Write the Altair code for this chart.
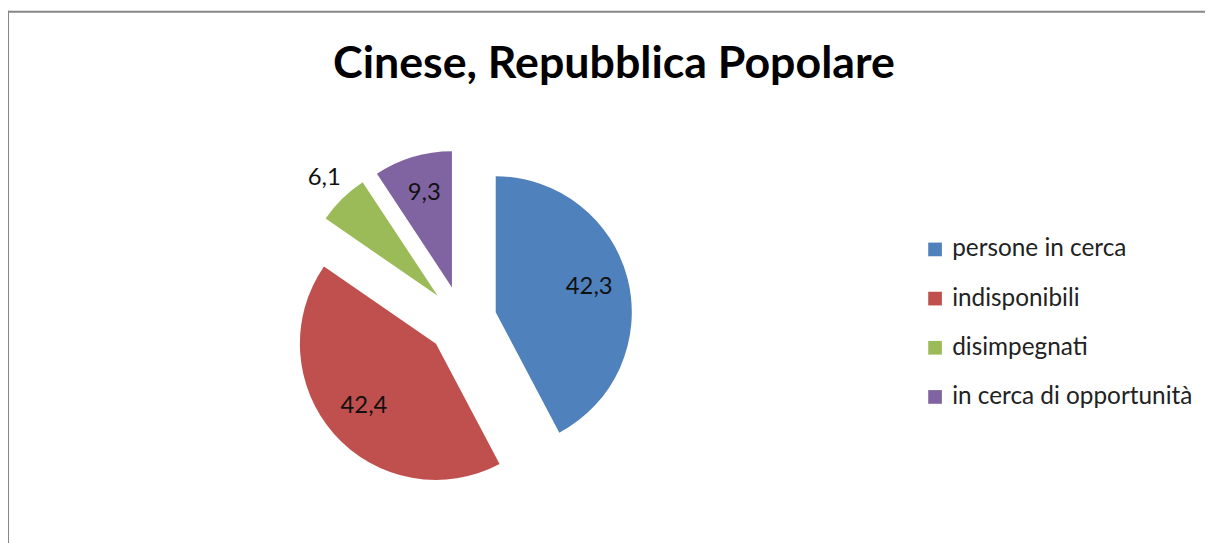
import altair as alt
import pandas as pd

categories = ["persone in cerca", "indisponibili", "disimpegnati", "in cerca di opportunità"]
values = [42.3, 42.4, 6.1, 9.3]
colors = ["#4F81BD", "#C0504D", "#9BBB59", "#8064A2"]
title_text = "Cinese, Repubblica Popolare"

df = pd.DataFrame({"category": categories, "value": values, "order": list(range(len(values)))})

W, H = 1205, 535
CX, CY = 457, 313      # pie centre (plot coords)
R = 137                # pie radius
EXPLODE = 35           # explode distance
FONT = "Lato"

base = (
    alt.Chart(df)
    .transform_joinaggregate(total="sum(value)")
    .transform_window(cum="sum(value)", sort=[alt.SortField("order")])
    .transform_calculate(
        start="2*PI*(datum.cum - datum.value)/datum.total",
        end="2*PI*datum.cum/datum.total",
    )
    .transform_calculate(mid="(datum.start + datum.end)/2")
    .transform_calculate(
        cx=f"{CX} + {EXPLODE}*sin(datum.mid)",
        cy=f"{CY} - {EXPLODE}*cos(datum.mid)",
    )
    .transform_calculate(
        lr="datum.value < 8 ? 163 : 97",
        label="replace(format(datum.value, '.1f'), '.', ',')",
    )
    .transform_calculate(
        lx="datum.cx + datum.lr*sin(datum.mid)",
        ly="datum.cy - datum.lr*cos(datum.mid)",
    )
)

arcs = base.mark_arc(outerRadius=R, stroke=None).encode(
    x=alt.X("cx:Q", scale=None, axis=None),
    y=alt.Y("cy:Q", scale=None, axis=None),
    theta=alt.Theta("start:Q", scale=None),
    theta2="end:Q",
    color=alt.Color(
        "category:N",
        scale=alt.Scale(domain=categories, range=colors),
        legend=alt.Legend(
            title=None,
            orient="none",
            legendX=921,
            legendY=229,
            symbolType="square",
            symbolSize=190,
            symbolStrokeWidth=0,
            labelFont=FONT,
            labelFontSize=24.5,
            labelColor="#222222",
            labelOffset=5,
            rowPadding=24.5,
            labelLimit=400,
        ),
    ),
)

labels = base.mark_text(font=FONT, fontSize=24, color="#111111", baseline="middle", align="center", dy=-2).encode(
    x=alt.X("lx:Q", scale=None, axis=None),
    y=alt.Y("ly:Q", scale=None, axis=None),
    text="label:N",
)

title = alt.Chart(pd.DataFrame({"t": [title_text]})).mark_text(
    font=FONT, fontSize=45, fontWeight="bold", color="#000000", align="center", baseline="alphabetic"
).encode(x=alt.value(610), y=alt.value(69), text="t:N")

frame_top = alt.Chart(pd.DataFrame({"a": [0]})).mark_rule(
    stroke="#878787", strokeWidth=2
).encode(x=alt.value(-1), x2=alt.value(3000), y=alt.value(2))

frame_left = alt.Chart(pd.DataFrame({"a": [0]})).mark_rule(
    stroke="#878787", strokeWidth=2
).encode(x=alt.value(0), y=alt.value(1), y2=alt.value(3000))

chart = (
    alt.layer(frame_top, frame_left, arcs, labels, title)
    .properties(width=W, height=H, padding=0, autosize=alt.AutoSizeParams(type="none"))
    .configure_view(stroke=None)
)

chart.save("out.html", embed_options={"renderer": "svg", "actions": False})
